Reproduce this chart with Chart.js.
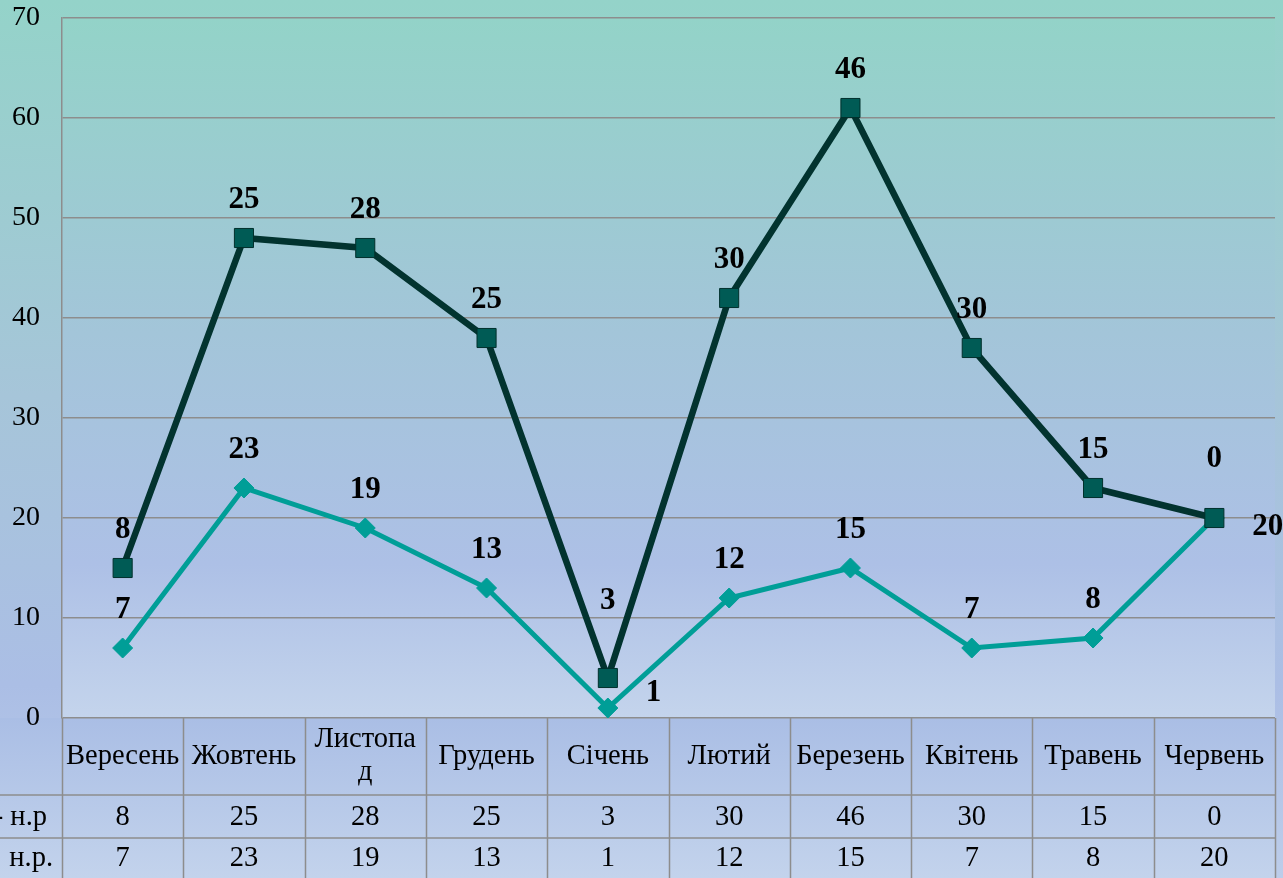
<!DOCTYPE html>
<html>
<head>
<meta charset="utf-8">
<script src="https://cdn.jsdelivr.net/npm/chart.js@4/dist/chart.umd.min.js"></script>
<style>
  html, body { margin: 0; padding: 0; background: #a9c3dc; }
  #wrap { width: 1283px; height: 878px; }
</style>
</head>
<body>
<div id="wrap"><canvas id="canvas" width="1283" height="878"></canvas></div>
<script>
// months of the school year
var months = ['Вересень', 'Жовтень', 'Листопад', 'Грудень', 'Січень', 'Лютий', 'Березень', 'Квітень', 'Травень', 'Червень'];
// upper series (stacked on top), dark line with squares
var upperValues = [8, 25, 28, 25, 3, 30, 46, 30, 15, 0];
// lower series, teal line with diamonds
var lowerValues = [7, 23, 19, 13, 1, 12, 15, 7, 8, 20];
// row names of the data table (cut off at the left edge in the original)
var rowNames = ['- н.р', 'н.р.'];

var serif = '"Liberation Serif", "Times New Roman", serif';
var gridGray = '#8d8d8d';
// a couple of upper labels were dragged higher by hand in the original (extra px)
var upperLabelLift = { 4: 39, 9: 21 };

// stacked: upper line sits on top of the lower one
var upperStacked = upperValues.map(function (v, i) { return v + lowerValues[i]; });

var bgPlugin = {
  id: 'bg',
  beforeDraw: function (chart) {
    var ctx = chart.ctx, a = chart.chartArea, h = chart.height, w = chart.width;
    ctx.save();
    var g = ctx.createLinearGradient(0, 0, 0, h);
    g.addColorStop(0, '#94d3c9');
    g.addColorStop(0.45, '#a6c5d9');
    g.addColorStop(0.78, '#abbee5');
    g.addColorStop(1, '#bccdea');
    ctx.fillStyle = g;
    ctx.fillRect(0, 0, w, h);

    var p = ctx.createLinearGradient(0, a.top, 0, a.bottom);
    p.addColorStop(0, '#93d3c8');
    p.addColorStop(0.45, '#a3c5d9');
    p.addColorStop(0.78, '#adc0e6');
    p.addColorStop(1, '#c4d4ec');
    ctx.fillStyle = p;
    ctx.fillRect(a.left, a.top, a.right - a.left, a.bottom - a.top);

    var t = ctx.createLinearGradient(0, a.bottom, 0, h);
    t.addColorStop(0, '#aabee5');
    t.addColorStop(1, '#c3d3ec');
    ctx.fillStyle = t;
    ctx.fillRect(0, a.bottom, a.right, h - a.bottom);
    ctx.restore();
  }
};

var labelPlugin = {
  id: 'valueLabels',
  afterDatasetsDraw: function (chart) {
    var ctx = chart.ctx, a = chart.chartArea;
    ctx.save();
    ctx.font = 'bold 31px ' + serif;
    ctx.fillStyle = '#000';
    ctx.textAlign = 'center';
    ctx.textBaseline = 'middle';
    var up = chart.getDatasetMeta(0).data;
    var low = chart.getDatasetMeta(1).data;
    up.forEach(function (pt, i) {
      ctx.fillText(String(upperValues[i]), pt.x, pt.y - 38 - (upperLabelLift[i] || 0));
    });
    low.forEach(function (pt, i) {
      if (upperValues[i] < 5) {
        // no room above: label goes to the right of the point
        var y = Math.min(pt.y + 9, a.bottom - 25);
        ctx.textAlign = 'left';
        ctx.fillText(String(lowerValues[i]), pt.x + 38, y);
        ctx.textAlign = 'center';
      } else {
        ctx.fillText(String(lowerValues[i]), pt.x, pt.y - 38);
      }
    });
    ctx.restore();
  }
};

function wrapChars(ctx, text, maxW) {
  var lines = [], cur = '';
  for (var i = 0; i < text.length; i++) {
    var next = cur + text[i];
    if (ctx.measureText(next).width > maxW && cur) {
      lines.push(cur);
      cur = text[i];
    } else {
      cur = next;
    }
  }
  lines.push(cur);
  return lines;
}

var tablePlugin = {
  id: 'dataTable',
  afterDraw: function (chart) {
    var ctx = chart.ctx, a = chart.chartArea, xs = chart.scales.x;
    var colW = (a.right - a.left) / months.length;
    var top = a.bottom, r1 = top + 77, r2 = r1 + 43, bottom = chart.height;
    ctx.save();
    ctx.strokeStyle = gridGray;
    ctx.lineWidth = 1.5;
    ctx.beginPath();
    ctx.moveTo(0, r1); ctx.lineTo(a.right, r1);
    ctx.moveTo(0, r2); ctx.lineTo(a.right, r2);
    for (var i = 0; i <= months.length; i++) {
      var x = Math.round(a.left + i * colW) + 0.5;
      ctx.moveTo(x, top); ctx.lineTo(x, bottom);
    }
    ctx.stroke();

    ctx.fillStyle = '#000';
    ctx.font = '28.5px ' + serif;
    ctx.textAlign = 'center';
    ctx.textBaseline = 'middle';
    months.forEach(function (m, i) {
      var cx = xs.getPixelForValue(i);
      var lines = wrapChars(ctx, m, colW - 7);
      var lh = 33;
      var y0 = (top + r1) / 2 - (lines.length - 1) * lh / 2;
      lines.forEach(function (ln, k) { ctx.fillText(ln, cx, y0 + k * lh); });
      ctx.fillText(String(upperValues[i]), cx, (r1 + r2) / 2 + 1);
      ctx.fillText(String(lowerValues[i]), cx, (r2 + bottom) / 2 + 1);
    });

    ctx.textAlign = 'right';
    ctx.fillText(rowNames[0], 47, (r1 + r2) / 2 + 1);
    ctx.fillText(rowNames[1], 53, (r2 + bottom) / 2 + 1);
    ctx.restore();
  }
};

var config = {
  type: 'line',
  data: {
    labels: months,
    datasets: [{
      label: rowNames[0],
      data: upperStacked,
      borderColor: '#02332f',
      borderWidth: 6.5,
      backgroundColor: '#005b55',
      pointStyle: 'rect',
      pointRadius: 13.5,
      pointBackgroundColor: '#005b55',
      pointBorderColor: '#00302c',
      pointBorderWidth: 1,
      tension: 0,
      fill: false,
      clip: false
    }, {
      label: rowNames[1],
      data: lowerValues,
      borderColor: '#009e97',
      borderWidth: 5,
      backgroundColor: '#009e97',
      pointStyle: 'rectRot',
      pointRadius: 10,
      pointBackgroundColor: '#009e97',
      pointBorderColor: '#009e97',
      pointBorderWidth: 1,
      tension: 0,
      fill: false,
      clip: false
    }]
  },
  options: {
    responsive: false,
    animation: false,
    layout: { autoPadding: false, padding: { top: 18, right: 8, bottom: 160, left: 0 } },
    plugins: {
      legend: { display: false },
      tooltip: { enabled: false },
      title: { display: false }
    },
    scales: {
      x: { display: false, offset: true },
      y: {
        min: 0,
        max: 70,
        ticks: { stepSize: 10, color: '#000', font: { family: serif, size: 28 }, padding: 22 },
        grid: { color: gridGray, lineWidth: 1.5, drawTicks: false },
        border: { color: gridGray, width: 1.5 },
        afterFit: function (s) {
          s.width = 62;
          s.paddingTop = 0;
          s.paddingBottom = 0;
        }
      }
    }
  },
  plugins: [bgPlugin, labelPlugin, tablePlugin]
};

window.onload = function () {
  var ctx = document.getElementById('canvas').getContext('2d');
  window.myLine = new Chart(ctx, config);
};
</script>
</body>
</html>
